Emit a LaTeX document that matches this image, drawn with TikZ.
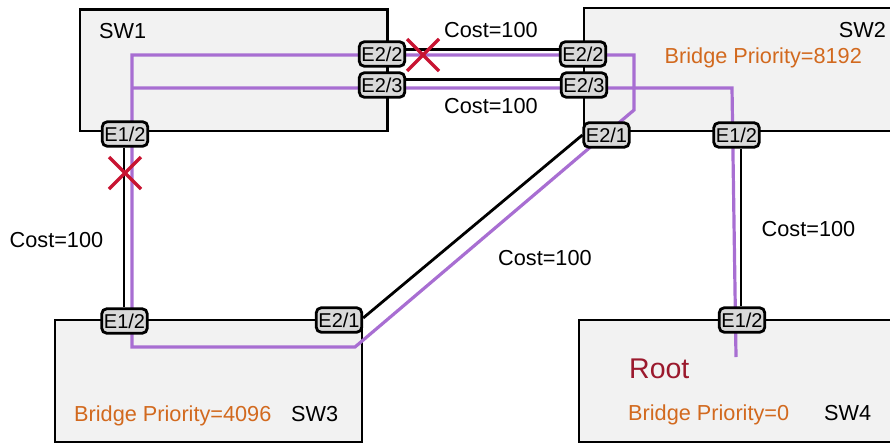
\documentclass[tikz,border=0pt]{standalone}
\usepackage{fontspec}
\setmainfont{Liberation Sans}
\usetikzlibrary{backgrounds}
\definecolor{boxfill}{HTML}{F2F2F2}
\definecolor{portfill}{HTML}{D9D9D9}
\definecolor{stp}{RGB}{168,110,210}
\definecolor{block}{RGB}{200,20,50}
\definecolor{prio}{RGB}{210,105,30}
\definecolor{rootred}{RGB}{155,25,45}
\tikzset{
  switchbox/.style={draw=black,fill=boxfill,line width=2.8pt},
  port/.style={draw=black,fill=portfill,line width=2.8pt,rounded corners=5pt,
    minimum width=45.5pt,minimum height=24.5pt,inner sep=0pt,
    font=\fontsize{20}{21}\selectfont},
  link/.style={draw=black,line width=2.8pt},
  path/.style={draw=stp,line width=3.2pt,line join=miter},
  cross/.style={draw=block,line width=3.5pt},
  lbl/.style={inner sep=0pt,anchor=base west,font=\fontsize{21.7}{24}\selectfont},
}
\begin{document}
\begin{tikzpicture}[x=1pt,y=-1pt]
\clip (0,0) rectangle (890,445);

% ports
\node[port] (s1e22) at (382,54) {E2/2};
\node[port] (s1e23) at (382,85) {E2/3};
\node[port] (s1e12) at (125,134) {E1/2};
\node[port] (s2e22) at (583,54) {E2/2};
\node[port] (s2e23) at (584,85) {E2/3};
\node[port] (s2e21) at (606.5,135) {E2/1};
\node[port] (s2e12) at (736.5,135) {E1/2};
\node[port] (s3e12) at (124.5,321) {E1/2};
\node[port] (s3e21) at (339,320) {E2/1};
\node[port] (s4e12) at (742,320) {E1/2};

\begin{pgfonlayer}{background}
% switches
\draw[switchbox] (80,9.5) rectangle (387.5,131);
\draw[switchbox] (584,8) rectangle (900,131);
\draw[switchbox] (55,320) rectangle (362,442);
\draw[switchbox] (579,320) rectangle (900,442);

% physical links
\draw[link] ([yshift=4.5pt]s1e22.east) -- ([yshift=4.5pt]s2e22.west);
\draw[link] ([yshift=5.5pt]s1e23.east) -- ([yshift=5.5pt]s2e23.west);
\draw[link] ([xshift=-1pt]s1e12.south) -- ([xshift=-1pt]s1e12.south |- s3e12.north);
\draw[link] ([yshift=2pt]s3e21.east) -- (s2e21.west);
\draw[link] ([xshift=-1pt]s4e12.north) -- ([xshift=-1pt]s4e12.north |- s2e12.south);

% spanning-tree paths
\coordinate (a1) at (132,55);
\coordinate (a2) at (634,55);
\coordinate (a3) at (634,110);
\coordinate (a4) at (355,347);
\coordinate (a5) at (132,347);
\draw[path] (a1) -- (a2) -- (a3) -- (a4) -- (a5) -- cycle;
\coordinate (b1) at (132,88);
\coordinate (b2) at (732,88);
\coordinate (b3) at (736,357);
\draw[path] (b1) -- (b2) -- (b3);
\end{pgfonlayer}

% blocked ports
\coordinate (x1) at (423,55);
\draw[cross] ([shift={(-16,-16)}]x1) -- ([shift={(16,16)}]x1)
             ([shift={(-16,16)}]x1) -- ([shift={(16,-16)}]x1);
\coordinate (x2) at (125,173);
\draw[cross] ([shift={(-16,-16)}]x2) -- ([shift={(16,16)}]x2)
             ([shift={(-16,16)}]x2) -- ([shift={(16,-16)}]x2);

% labels
\node[lbl] (n1) at (99,38) {SW1};
\node[lbl,anchor=base east] (n2) at (886,37) {SW2};
\node[lbl,text=prio] (p2) at (664.5,63) {Bridge Priority=8192};
\node[lbl] (c1) at (444,37) {Cost=100};
\node[lbl] (c2) at (444,113) {Cost=100};
\node[lbl] (c3) at (9.5,247) {Cost=100};
\node[lbl] (c4) at (498,265) {Cost=100};
\node[lbl] (c5) at (761.5,236.7) {Cost=100};
\node[lbl,text=rootred,font=\fontsize{28.5}{30}\selectfont] (rt) at (629,378.3) {Root};
\node[lbl,text=prio] (p4) at (628,420) {Bridge Priority=0};
\node[lbl] (n4) at (824,420) {SW4};
\node[lbl,text=prio] (p3) at (74,421.5) {Bridge Priority=4096};
\node[lbl] (n3) at (291,421.5) {SW3};
\end{tikzpicture}
\end{document}
